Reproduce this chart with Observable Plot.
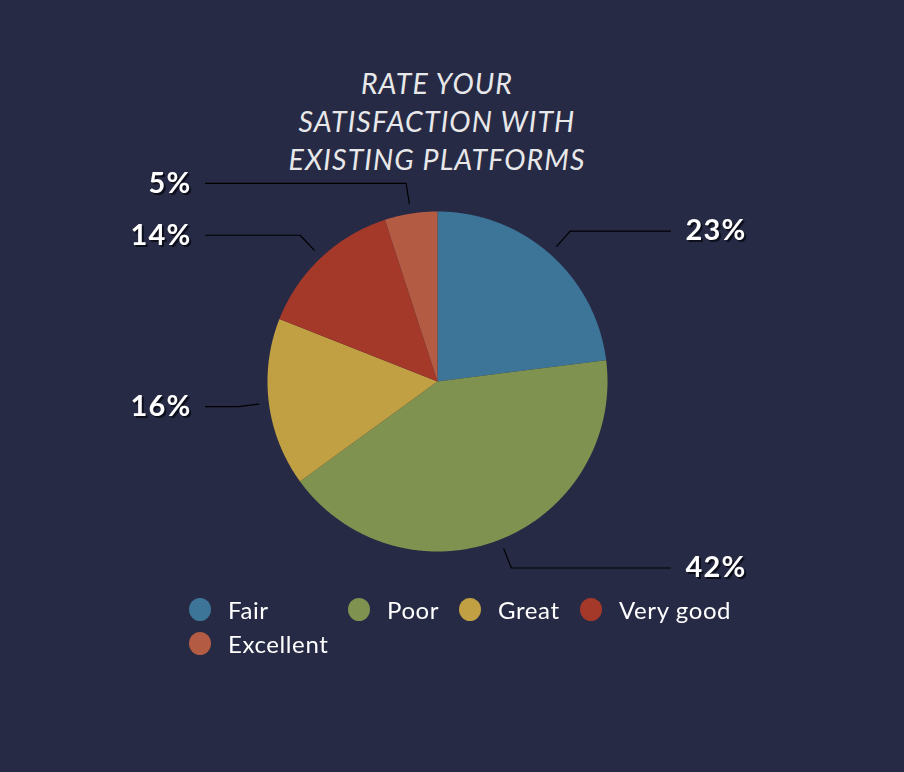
<!DOCTYPE html>
<html>
<head>
<meta charset="utf-8">
<script src="https://cdn.jsdelivr.net/npm/d3@7"></script>
<script src="https://cdn.jsdelivr.net/npm/@observablehq/plot@0.6"></script>
<style>
  html, body { margin: 0; padding: 0; background: #262a44; }
  #wrap { position: relative; width: 904px; height: 772px; overflow: hidden; background: #262a44; }
  #title { position: absolute; left: 0; width: 874px; top: 64px; text-align: center;
    font-family: Lato, "Open Sans", sans-serif; font-style: italic; font-weight: 400;
    font-size: 28.5px; line-height: 38px; letter-spacing: 1.1px; color: #e8e8ea; }
  #chart { position: absolute; left: 0; top: 0; }
  #legend { position: absolute; left: 0; top: 0; width: 904px; height: 772px; pointer-events: none;
    font-family: Lato, "Open Sans", sans-serif; font-size: 24px; letter-spacing: 0.6px; color: #ffffff; }
  .item { position: absolute; display: flex; align-items: center; height: 30px; transform: translateY(-50%); }
  .dot { width: 22px; height: 23px; border-radius: 50%; margin-right: 17px; }
</style>
</head>
<body>
<div id="wrap">
  <div id="chart"></div>
  <div id="title">RATE YOUR<br>SATISFACTION WITH<br>EXISTING PLATFORMS</div>
  <div id="legend"></div>
</div>
<script>
// ---- data ----
const categories = ["Fair", "Poor", "Great", "Very good", "Excellent"];
const values = [23, 42, 16, 14, 5];
const labels = ["23%", "42%", "16%", "14%", "5%"];
const colors = ["#3c7598", "#80924f", "#c1a044", "#a43829", "#b45b44"];

// ---- layout ----
const W = 904, H = 772, cx = 437, cy = 381, R = 170;
const rightEnd = 233 / R, leftEnd = -232 / R;
const legendLeft = [189, 348, 459, 580, 189];
const legendTop = [609, 609, 609, 609, 643];

const pie = d3.pie().sort(null).value(d => d)(values);
const polar = (a, r) => ({x: r * Math.sin(a), y: -r * Math.cos(a)});

// slice polygons derived from the pie angles
const slicePts = [];
pie.forEach((p, i) => {
  const cat = categories[i];
  slicePts.push({cat, x: 0, y: 0});
  const n = Math.max(2, Math.ceil((p.endAngle - p.startAngle) / 0.005));
  for (let k = 0; k <= n; k++) {
    const a = p.startAngle + (p.endAngle - p.startAngle) * k / n;
    const q = polar(a, 1);
    slicePts.push({cat, x: q.x, y: q.y});
  }
  slicePts.push({cat, x: 0, y: 0});
});

// leader lines + label anchors
const leaderPts = [];
const labelData = [];
pie.forEach((p, i) => {
  const mid = (p.startAngle + p.endAngle) / 2;
  const p1 = polar(mid, 1.06), p2 = polar(mid, 1.18);
  const right = Math.sin(mid) >= 0;
  const endX = right ? rightEnd : leftEnd;
  [p1, p2, {x: endX, y: p2.y}].forEach(q => leaderPts.push({cat: categories[i], x: q.x, y: q.y}));
  labelData.push({label: labels[i], x: endX + (right ? 15 : -14) / R, y: p2.y, anchor: right ? "start" : "end"});
});

const xs = {domain: [-cx / R, (W - cx) / R], range: [0, W]};
const ys = {domain: [-cy / R, (H - cy) / R], range: [0, H]};

const labelFont = {fontFamily: "Lato, 'Open Sans', sans-serif", fontWeight: 700, fontSize: 29};

const chart = Plot.plot({
  width: W, height: H, margin: 0,
  x: {...xs, axis: null}, y: {...ys, axis: null},
  color: {domain: categories, range: colors},
  style: {background: "transparent", overflow: "visible", letterSpacing: "1.2px"},
  marks: [
    Plot.line(slicePts, {x: "x", y: "y", z: "cat", fill: "cat", stroke: "none", curve: "linear"}),
    Plot.line(leaderPts, {x: "x", y: "y", z: "cat", stroke: "#000000", strokeWidth: 1.2}),
    Plot.text(labelData.filter(d => d.anchor === "start"), {x: "x", y: "y", text: "label", textAnchor: "start", fill: "#ffffff", ...labelFont}),
    Plot.text(labelData.filter(d => d.anchor === "end"), {x: "x", y: "y", text: "label", textAnchor: "end", fill: "#ffffff", ...labelFont})
  ]
});
d3.select(chart).selectAll("g[aria-label='text']").style("filter", "drop-shadow(2px 2px 0px #0d0f1c)");
document.getElementById("chart").appendChild(chart);

// legend
const leg = document.getElementById("legend");
categories.forEach((c, i) => {
  const it = document.createElement("div");
  it.className = "item";
  it.style.left = legendLeft[i] + "px";
  it.style.top = legendTop[i] + "px";
  const dot = document.createElement("span");
  dot.className = "dot";
  dot.style.background = colors[i];
  const t = document.createElement("span");
  t.textContent = c;
  it.appendChild(dot); it.appendChild(t);
  leg.appendChild(it);
});
</script>
</body>
</html>
